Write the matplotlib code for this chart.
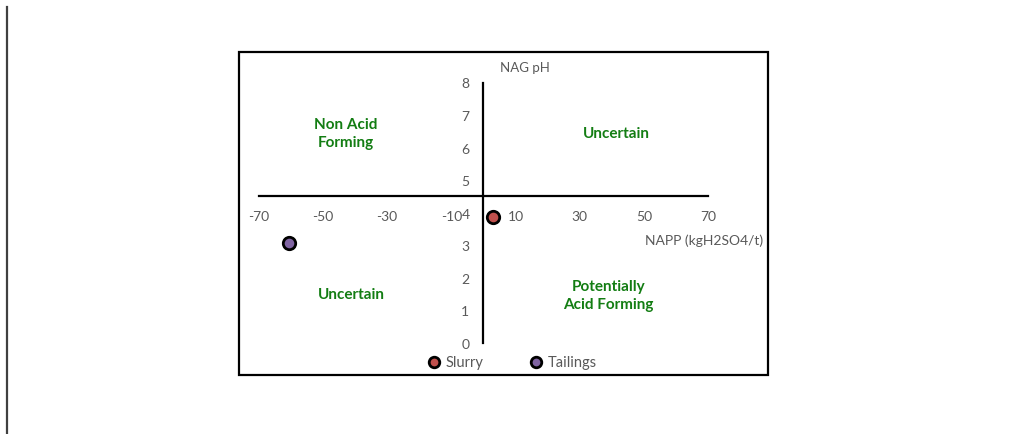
import matplotlib
matplotlib.use("Agg")
import matplotlib.pyplot as plt
from matplotlib.lines import Line2D
from matplotlib.patches import Rectangle

# ---- data ----
series_names = ["Slurry", "Tailings"]
napp_values = [3.1, -60.6]          # NAPP (kgH2SO4/t)
nagph_values = [3.87, 3.07]         # NAG pH
series_colors = ["#C0504D", "#8064A2"]

x_ticks = [-70, -50, -30, -10, 10, 30, 50, 70]
y_ticks = [0, 1, 2, 3, 4, 5, 6, 7, 8]
x_title = "NAPP (kgH2SO4/t)"
y_title = "NAG pH"
quadrant_labels = ["Non Acid\nForming", "Uncertain", "Uncertain", "Potentially\nAcid Forming"]
quadrant_pos = [(-43, 6.45), (41.5, 6.45), (-41, 1.5), (39, 1.47)]
x_cross = 0
y_cross = 4.5

W, H = 1027, 435
plt.rcParams['font.family'] = ['Lato', 'DejaVu Sans']
fig = plt.figure(figsize=(W / 100, H / 100), dpi=100)


def fx(x):
    return x / W


def fy(y):
    return 1 - y / H


# outer chart box
fig.patches.append(Rectangle((fx(239), fy(376)), (768 - 239) / W, (376 - 53) / H,
                             transform=fig.transFigure, fill=False,
                             edgecolor="black", linewidth=1.6))
# left vertical line of page
fig.add_artist(Line2D([fx(7), fx(7)], [fy(8), fy(435)], transform=fig.transFigure,
                      color="#404040", linewidth=1.6))

ax = fig.add_axes([fx(258.7), fy(344), (708 - 258.7) / W, (344 - 83.5) / H])
ax.set_xlim(-70, 70)
ax.set_ylim(0, 8)
ax.patch.set_alpha(0)
for s in ["top", "right"]:
    ax.spines[s].set_visible(False)
ax.spines["left"].set_position(("data", x_cross))
ax.spines["bottom"].set_position(("data", y_cross))
for s in ["left", "bottom"]:
    ax.spines[s].set_linewidth(1.6)
    ax.spines[s].set_color("black")

ax.set_xticks(x_ticks)
ax.set_xticklabels([str(v) for v in x_ticks])
ax.set_yticks(y_ticks)
ax.set_yticklabels([str(v) for v in y_ticks])
ax.tick_params(axis="x", length=0, pad=10, labelsize=10, labelcolor="#595959")
ax.tick_params(axis="y", length=0, pad=10, labelsize=10, labelcolor="#595959")

handles = []
for name, xv, yv, c in zip(series_names, napp_values, nagph_values, series_colors):
    h = ax.scatter([xv], [yv], s=80, color=c, edgecolor="black", linewidth=2.0,
                   zorder=5, clip_on=False, label=name)
    handles.append(h)

for lab, (qx, qy) in zip(quadrant_labels, quadrant_pos):
    ax.text(qx, qy, lab, ha="center", va="center", fontsize=11, fontweight="bold",
            color="#137D13", linespacing=1.3)

fig.text(fx(525), fy(68), y_title, ha="center", va="center", fontsize=9.5, color="#595959")
fig.text(fx(763), fy(241), x_title, ha="right", va="center", fontsize=10, color="#595959")

leg = fig.legend(handles=handles, labels=series_names, ncol=2, loc="center",
                 bbox_to_anchor=(fx(508), fy(363)), frameon=False, fontsize=10.5,
                 handletextpad=-0.2, columnspacing=2.6, markerscale=0.85,
                 labelcolor="#595959", borderaxespad=0)

fig.savefig("out.png", dpi=100)
